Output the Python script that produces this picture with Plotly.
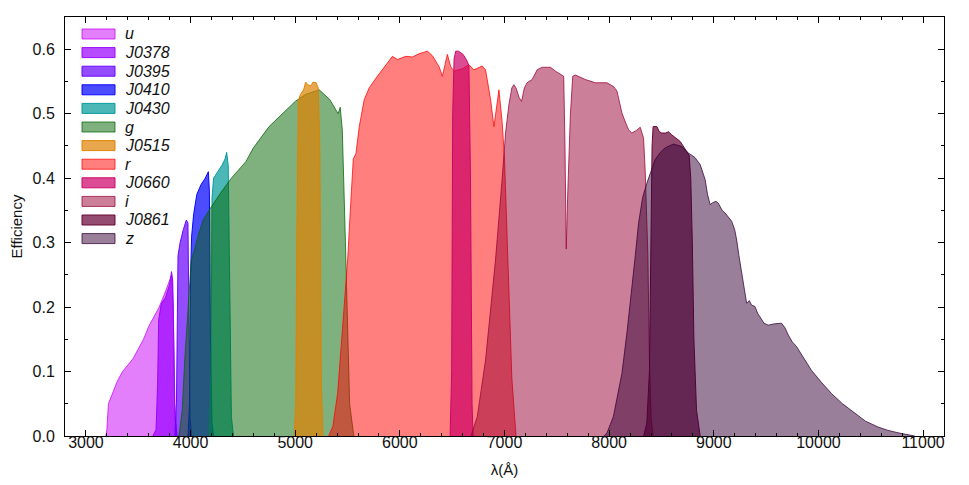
import plotly.graph_objects as go

# ---------------- data ----------------
names = ["u", "J0378", "J0395", "J0410", "J0430", "g", "J0515", "r", "J0660", "i", "J0861", "z"]

u_wl = [3190, 3200, 3215, 3250, 3300, 3350, 3400, 3450, 3500, 3550, 3600, 3650, 3700, 3750, 3800, 3820, 3835, 3850, 3870]
u_eff = [0.0, 0.01, 0.05, 0.065, 0.085, 0.10, 0.11, 0.12, 0.135, 0.15, 0.17, 0.185, 0.20, 0.22, 0.24, 0.25, 0.20, 0.05, 0.0]

j0378_wl = [3640, 3670, 3685, 3695, 3720, 3760, 3800, 3818, 3830, 3840, 3850, 3870]
j0378_eff = [0.0, 0.01, 0.08, 0.18, 0.205, 0.215, 0.235, 0.255, 0.24, 0.15, 0.03, 0.0]

j0395_wl = [3850, 3865, 3880, 3900, 3930, 3960, 3975, 3985, 3995, 4010]
j0395_eff = [0.0, 0.05, 0.28, 0.30, 0.32, 0.335, 0.33, 0.20, 0.03, 0.0]

j0410_wl = [3975, 3990, 4000, 4010, 4030, 4060, 4100, 4140, 4170, 4180, 4190, 4205, 4220]
j0410_eff = [0.0, 0.05, 0.25, 0.31, 0.345, 0.375, 0.39, 0.40, 0.41, 0.38, 0.15, 0.02, 0.0]

j0430_wl = [4180, 4195, 4205, 4220, 4260, 4300, 4330, 4345, 4360, 4375, 4390, 4410]
j0430_eff = [0.0, 0.10, 0.37, 0.40, 0.41, 0.42, 0.43, 0.44, 0.42, 0.20, 0.03, 0.0]

g_wl = [3890, 3920, 3945, 3975, 4007, 4040, 4080, 4120, 4200, 4300, 4390, 4530, 4600, 4750, 4910,
        5000, 5100, 5230, 5330, 5390, 5410, 5430, 5450, 5480, 5520, 5560]
g_eff = [0.0, 0.04, 0.12, 0.20, 0.273, 0.29, 0.315, 0.335, 0.356, 0.38, 0.40, 0.426, 0.447, 0.48, 0.504,
         0.519, 0.53, 0.537, 0.522, 0.504, 0.50, 0.51, 0.475, 0.30, 0.05, 0.0]

j0515_wl = [4990, 5005, 5015, 5030, 5050, 5080, 5100, 5120, 5150, 5170, 5200, 5220, 5235, 5250, 5265]
j0515_eff = [0.0, 0.05, 0.30, 0.52, 0.53, 0.537, 0.549, 0.545, 0.543, 0.549, 0.548, 0.54, 0.45, 0.08, 0.0]

r_wl = [5320, 5360, 5406, 5453, 5501, 5530, 5555, 5580, 5612, 5660, 5707, 5771, 5834, 5880, 5929, 5977,
        6057, 6120, 6184, 6263, 6311, 6375, 6406, 6454, 6486, 6518, 6600, 6661, 6706, 6787, 6819,
        6867, 6899, 6947, 6978, 7000, 7040, 7070, 7110]
r_eff = [0.0, 0.015, 0.067, 0.17, 0.273, 0.36, 0.43, 0.438, 0.48, 0.522, 0.54, 0.555, 0.568, 0.578, 0.589, 0.584,
         0.589, 0.588, 0.593, 0.597, 0.59, 0.573, 0.558, 0.592, 0.573, 0.566, 0.57, 0.576, 0.568, 0.574, 0.568,
         0.522, 0.48, 0.537, 0.486, 0.43, 0.22, 0.09, 0.0]

j0660_wl = [6480, 6495, 6505, 6518, 6534, 6560, 6604, 6635, 6660, 6675, 6690, 6700]
j0660_eff = [0.0, 0.10, 0.50, 0.585, 0.597, 0.597, 0.592, 0.584, 0.575, 0.40, 0.05, 0.0]

i_wl = [6680, 6740, 6819, 6870, 6914, 6978, 6994, 7010, 7042, 7070, 7089, 7110, 7140, 7163, 7190, 7216,
        7264, 7312, 7359, 7439, 7487, 7550, 7566, 7578, 7590, 7605, 7630, 7652, 7678, 7773, 7868, 7979,
        8043, 8075, 8100, 8122, 8160, 8186, 8217, 8260, 8297, 8315, 8329, 8345, 8360, 8370, 8385, 8400, 8420]
i_eff = [0.0, 0.03, 0.118, 0.20, 0.273, 0.40, 0.436, 0.47, 0.514, 0.54, 0.545, 0.54, 0.525, 0.519, 0.54, 0.548,
         0.553, 0.568, 0.572, 0.572, 0.566, 0.56, 0.558, 0.45, 0.29, 0.38, 0.50, 0.558, 0.56, 0.553, 0.548, 0.548,
         0.542, 0.535, 0.515, 0.501, 0.485, 0.475, 0.47, 0.474, 0.479, 0.47, 0.462, 0.41, 0.34, 0.28, 0.12, 0.03, 0.0]

j0861_wl = [8330, 8360, 8385, 8400, 8410, 8420, 8456, 8480, 8503, 8540, 8567, 8599, 8640, 8679, 8742, 8765,
            8780, 8795, 8810, 8835, 8870]
j0861_eff = [0.0, 0.02, 0.10, 0.30, 0.45, 0.48, 0.48, 0.472, 0.47, 0.47, 0.472, 0.467, 0.462, 0.457, 0.441, 0.435,
             0.40, 0.30, 0.15, 0.04, 0.0]

z_wl = [7950, 7980, 8040, 8080, 8122, 8170, 8217, 8250, 8281, 8320, 8360, 8400, 8440, 8490, 8536, 8615, 8694,
        8758, 8820, 8870, 8917, 8940, 8965, 8990, 9020, 9044, 9080, 9108, 9140, 9171, 9200, 9219, 9240, 9266,
        9290, 9314, 9340, 9361, 9393, 9420, 9441, 9480, 9520, 9580, 9647, 9680, 9711, 9750, 9790, 9860, 9933,
        10030, 10124, 10230, 10347, 10450, 10569, 10660, 10760, 10850, 10920]
z_eff = [0.0, 0.005, 0.03, 0.06, 0.097, 0.16, 0.227, 0.28, 0.33, 0.37, 0.392, 0.412, 0.429, 0.44, 0.447, 0.453, 0.449,
         0.439, 0.432, 0.421, 0.398, 0.375, 0.359, 0.362, 0.364, 0.361, 0.35, 0.346, 0.34, 0.333, 0.32, 0.304, 0.28, 0.253,
         0.225, 0.206, 0.21, 0.203, 0.201, 0.19, 0.185, 0.175, 0.172, 0.174, 0.175, 0.168, 0.157, 0.146, 0.139, 0.12, 0.102,
         0.083, 0.066, 0.05, 0.035, 0.023, 0.014, 0.009, 0.005, 0.002, 0.0]

x_tick_vals = [3000, 4000, 5000, 6000, 7000, 8000, 9000, 10000, 11000]
x_tick_text = ["3000", "4000", "5000", "6000", "7000", "8000", "9000", "10000", "11000"]
y_tick_vals = [0.0, 0.1, 0.2, 0.3, 0.4, 0.5, 0.6]
y_tick_text = ["0.0", "0.1", "0.2", "0.3", "0.4", "0.5", "0.6"]

wavelengths = [u_wl, j0378_wl, j0395_wl, j0410_wl, j0430_wl, g_wl, j0515_wl, r_wl, j0660_wl, i_wl, j0861_wl, z_wl]
efficiencies = [u_eff, j0378_eff, j0395_eff, j0410_eff, j0430_eff, g_eff, j0515_eff, r_eff, j0660_eff, i_eff, j0861_eff, z_eff]

# ---------------- styles ----------------
base_rgb = [(200, 0, 245), (153, 0, 255), (102, 0, 255), (0, 0, 255), (0, 153, 153), (0, 100, 0),
            (222, 130, 0), (255, 0, 0), (204, 0, 102), (153, 0, 51), (102, 0, 51), (51, 0, 51)]
alphas = [0.5, 0.7, 0.7, 0.7, 0.7, 0.5, 0.7, 0.5, 0.7, 0.5, 0.7, 0.5]

FONT = "Liberation Sans, Arial, Helvetica, sans-serif"

fig = go.Figure()
for name, wl, eff, rgb, a in zip(names, wavelengths, efficiencies, base_rgb, alphas):
    fill = "rgba(%d,%d,%d,%.2f)" % (rgb[0], rgb[1], rgb[2], a)
    line = "rgba(%d,%d,%d,%.2f)" % (rgb[0], rgb[1], rgb[2], min(1.0, a + 0.25))
    fig.add_trace(go.Scatter(x=wl, y=eff, mode="lines", fill="tozeroy", fillcolor=fill,
                             line=dict(color=line, width=1), name=name, showlegend=False,
                             hoverinfo="skip"))

# ---------------- layout (page body has an 8px default margin) ----------------
W, H = 969, 485
OFF = 8
SL, SR, ST, SB = 65, 944, 17, 436          # plot frame as seen on screen
L, T = SL - OFF, ST - OFF
R, B = W - (SR - OFF), H - (SB - OFF)
pw, ph = SR - SL, SB - ST

def px_x(px):
    return (px - SL) / pw

def px_y(py):
    return (SB - py) / ph

shapes = []
annotations = []
for k, (name, rgb, a) in enumerate(zip(names, base_rgb, alphas)):
    yc = 34 + 18.6 * k
    fill = "rgba(%d,%d,%d,%.2f)" % (rgb[0], rgb[1], rgb[2], a)
    line = "rgba(%d,%d,%d,%.2f)" % (rgb[0], rgb[1], rgb[2], min(1.0, a + 0.25))
    shapes.append(dict(type="rect", xref="paper", yref="paper",
                       x0=px_x(82), x1=px_x(115), y0=px_y(yc + 5), y1=px_y(yc - 5),
                       fillcolor=fill, line=dict(color=line, width=1), layer="above"))
    annotations.append(dict(xref="paper", yref="paper", x=px_x(123), y=px_y(yc),
                            xanchor="left", yanchor="middle", showarrow=False,
                            text="<i>%s</i>" % name, font=dict(family=FONT, size=16, color="#111")))

fig.update_layout(
    width=W, height=H,
    margin=dict(l=L, r=R, t=T, b=B, autoexpand=False),
    paper_bgcolor="white", plot_bgcolor="white",
    font=dict(family=FONT, size=15, color="#111"),
    shapes=shapes, annotations=annotations,
    showlegend=False,
)
fig.update_xaxes(range=[2800, 11200], showline=True, linecolor="black", linewidth=1, mirror="ticks",
                 ticks="inside", ticklen=6, tickcolor="black", automargin=False,
                 tickmode="array", tickvals=x_tick_vals, ticktext=x_tick_text,
                 minor=dict(tickmode="linear", tick0=2800, dtick=200, ticks="inside", ticklen=3, tickcolor="black"),
                 showgrid=False, zeroline=False, ticklabelstandoff=-8,
                 title=dict(text="λ(Å)", font=dict(size=15), standoff=14),
                 tickfont=dict(size=16))
fig.update_yaxes(range=[0, 0.65], showline=True, linecolor="black", linewidth=1, mirror="ticks",
                 ticks="inside", ticklen=6, tickcolor="black", automargin=False,
                 tickmode="array", tickvals=y_tick_vals, ticktext=y_tick_text,
                 minor=dict(tickmode="linear", tick0=0, dtick=0.05, ticks="inside", ticklen=3, tickcolor="black"),
                 showgrid=False, zeroline=False, ticklabelstandoff=6,
                 title=dict(text="Efficiency", font=dict(size=15), standoff=14),
                 tickfont=dict(size=16))

fig.write_html("out.html", config={"displayModeBar": False})
